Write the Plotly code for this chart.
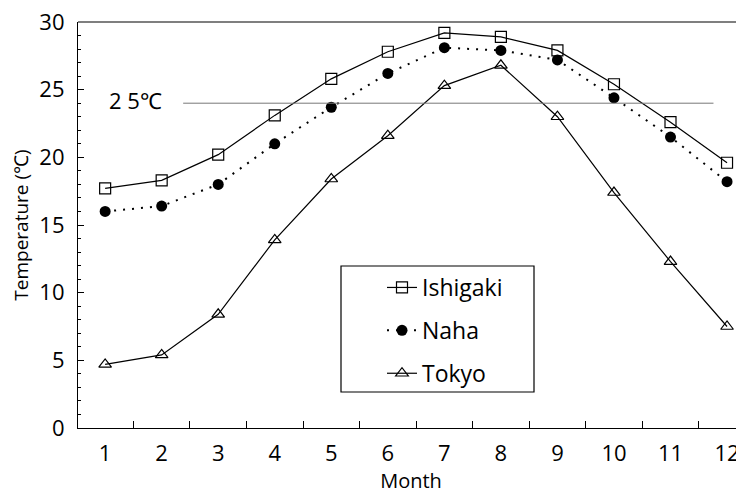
import plotly.graph_objects as go

months = list(range(1, 13))
ishigaki = [17.7, 18.3, 20.2, 23.1, 25.8, 27.8, 29.2, 28.9, 27.9, 25.4, 22.6, 19.6]
naha = [16.0, 16.4, 18.0, 21.0, 23.7, 26.2, 28.1, 27.9, 27.2, 24.4, 21.5, 18.2]
tokyo = [4.7, 5.4, 8.4, 13.9, 18.4, 21.6, 25.3, 26.8, 23.0, 17.4, 12.3, 7.5]
ref_value = 24
ref_label = "2 5℃"
tick_labels = [str(m) for m in months]

FONT = "Open Sans"
# the page body adds an 8px offset; plot-area pixels below are in figure coordinates
PL, PR, PT, PB = 70, 736, 14, 420
PW, PH = PR - PL, PB - PT

fig = go.Figure()
fig.add_trace(go.Scatter(
    x=months, y=ishigaki, name="Ishigaki", mode="lines+markers", legendgroup="a",
    line=dict(color="black", width=1.2),
    marker=dict(symbol="square-open", size=11, color="black", line=dict(width=1.2))))
fig.add_trace(go.Scatter(
    x=months, y=naha, name="Naha", mode="lines+markers", legendgroup="b",
    line=dict(color="black", width=2, dash="2px,7px"),
    marker=dict(symbol="circle", size=11, color="black")))
fig.add_trace(go.Scatter(
    x=months, y=tokyo, name="Tokyo", mode="lines+markers", legendgroup="c",
    line=dict(color="black", width=1.2),
    marker=dict(symbol="triangle-up-open", size=11, color="black", line=dict(width=1.2))))

fig.add_shape(type="line", xref="x", yref="y", x0=2.38, x1=11.76, y0=ref_value, y1=ref_value,
              line=dict(color="#777777", width=1))
fig.add_annotation(x=1.53, y=ref_value, xref="x", yref="y", text=ref_label, showarrow=False,
                   font=dict(family=FONT, size=22, color="black"), yshift=3)

# top frame line of the plot area
fig.add_shape(type="line", xref="paper", yref="paper", x0=0, x1=1, y0=1, y1=1,
              line=dict(color="black", width=1.2))

# legend frame
fig.add_shape(type="rect", xref="paper", yref="paper",
              x0=(333 - PL) / PW, x1=(526 - PL) / PW,
              y0=(PB - 384) / PH, y1=(PB - 258) / PH,
              line=dict(color="black", width=1.2), fillcolor="white", layer="below")

fig.update_layout(
    width=744, height=492,
    margin=dict(l=PL, r=744 - PR, t=PT, b=492 - PB, autoexpand=False),
    paper_bgcolor="white", plot_bgcolor="white",
    font=dict(family=FONT, size=22, color="black"),
    showlegend=True,
    legend=dict(x=(374 - PL) / PW, y=(PB - 258) / PH, xanchor="left", yanchor="top",
                bgcolor="rgba(0,0,0,0)", borderwidth=0, tracegroupgap=10,
                font=dict(family=FONT, size=23, color="black")),
    xaxis=dict(range=[0.52, 12.3], tickvals=months, ticktext=tick_labels, ticks="",
               automargin=False, ticklabeloverflow="allow",
               showline=True, linecolor="black", linewidth=1.2, mirror=False,
               showgrid=False, zeroline=False, ticklabelstandoff=5,
               tickfont=dict(size=22),
               minor=dict(tick0=0.5, dtick=1, ticks="inside", ticklen=7,
                          tickcolor="black", tickwidth=1, showgrid=False),
               title=dict(text="Month", font=dict(size=20), standoff=3)),
    yaxis=dict(range=[0, 30], tickvals=[0, 5, 10, 15, 20, 25, 30], ticks="inside",
               automargin=False, ticklabeloverflow="allow",
               ticklen=6, tickcolor="black", tickwidth=1,
               showline=True, linecolor="black", linewidth=1.2, mirror=False,
               showgrid=False, zeroline=False, ticklabelstandoff=8,
               tickfont=dict(size=22),
               minor=dict(dtick=1, ticks="inside", ticklen=3, tickcolor="black",
                          tickwidth=1, showgrid=False),
               title=dict(text="Temperature (℃)", font=dict(size=19), standoff=7)),
)

fig.write_html("out.html")
